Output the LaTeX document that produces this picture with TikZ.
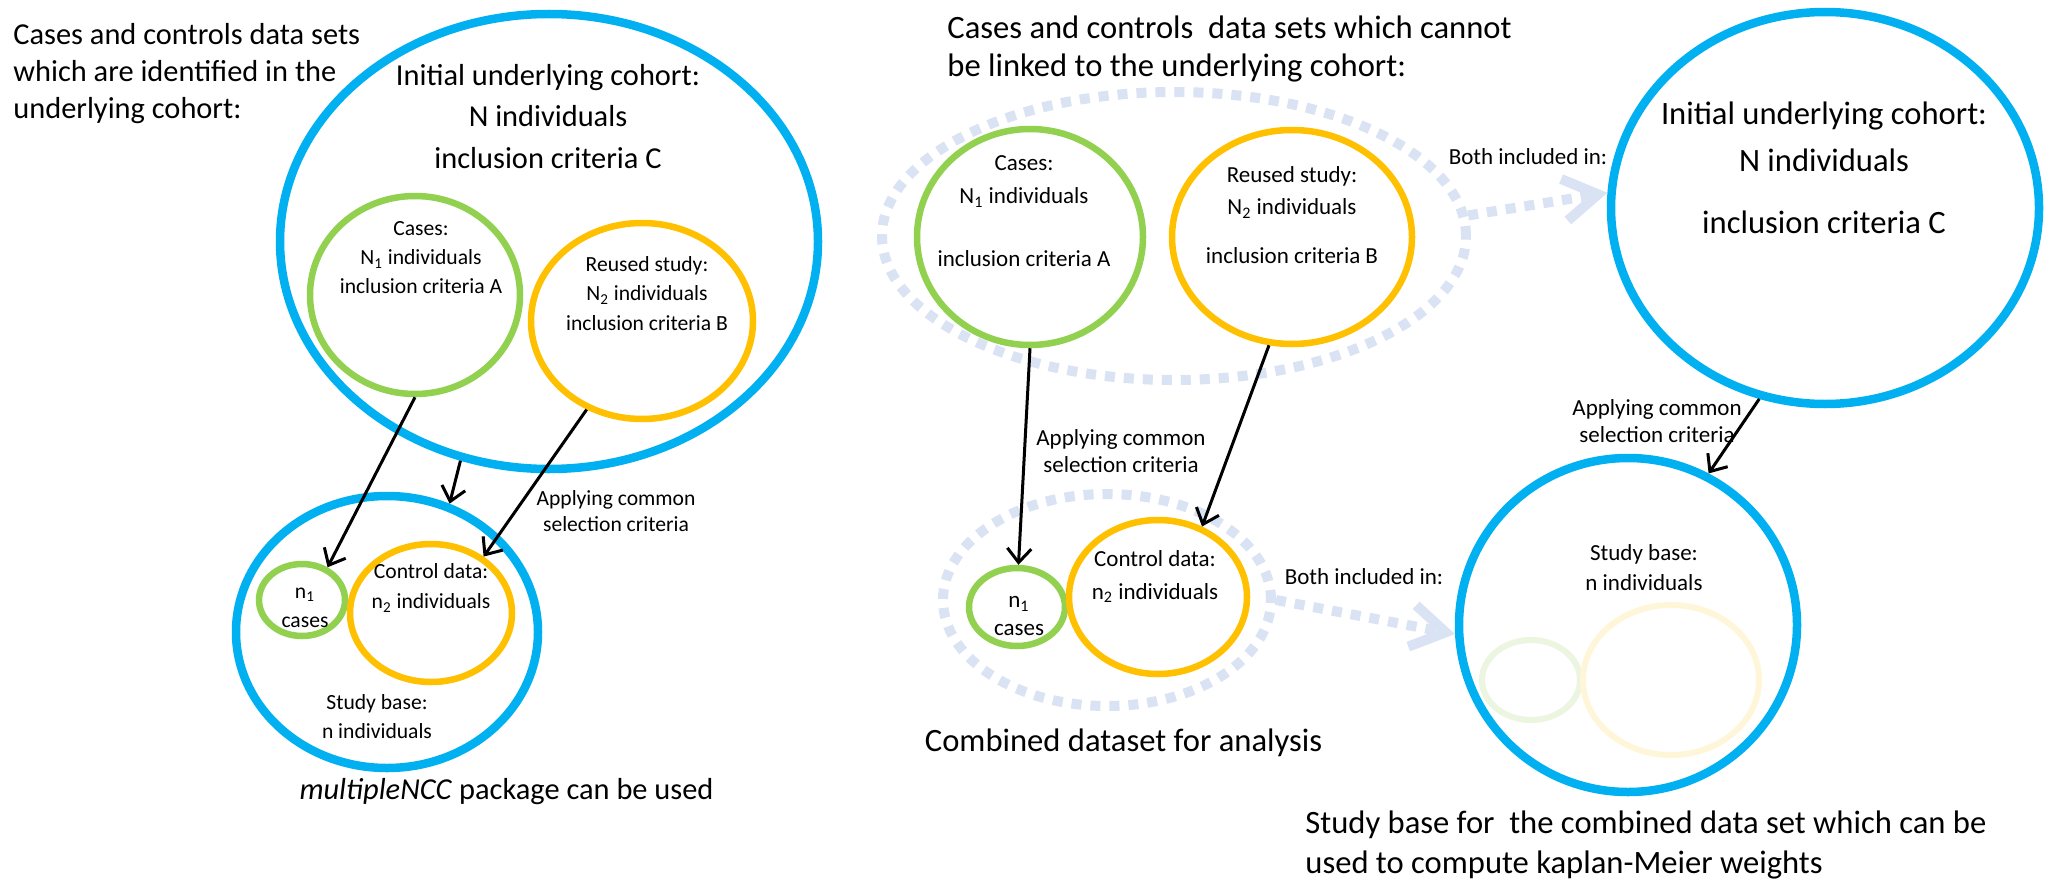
\documentclass[tikz,border=0pt]{standalone}
\usepackage{fontspec}
\setmainfont{Carlito}
\usetikzlibrary{shapes.geometric,arrows.meta}

\definecolor{cblue}{RGB}{0,176,240}
\definecolor{cgreen}{RGB}{146,208,80}
\definecolor{corange}{RGB}{255,192,0}
\definecolor{cdot}{RGB}{218,227,243}
\definecolor{fadegreen}{RGB}{235,245,223}
\definecolor{fadeorange}{RGB}{255,246,217}

\tikzset{
  ring/.style={ellipse, inner sep=0pt},
  bluering/.style={ring, draw=cblue, line width=4.25pt},
  greenring/.style={ring, draw=cgreen, line width=3.25pt},
  orangering/.style={ring, draw=corange, line width=3.25pt},
  dotring/.style={ring, draw=cdot, line width=5pt, dash pattern=on 5pt off 4.5pt},
  arr/.style={line width=1.5pt, -{Straight Barb[length=7pt,width=12pt]}},
  dotarr/.style={draw=cdot, line width=5pt, dash pattern=on 5pt off 4.5pt,
                 -{Straight Barb[length=17pt,width=21pt]}},
  bigL/.style={align=center, inner sep=0pt, font=\fontsize{15.2}{#1}\selectfont},
  smallL/.style={align=center, inner sep=0pt, font=\fontsize{10.8}{#1}\selectfont},
  bigR/.style={align=center, inner sep=0pt, font=\fontsize{16.3}{#1}\selectfont},
  smallR/.style={align=center, inner sep=0pt, font=\fontsize{11.5}{#1}\selectfont},
}

\begin{document}
\begin{tikzpicture}[x=0.5pt,y=-0.5pt]
\path[use as bounding box, fill=white] (0,0) rectangle (2049,883);

% ---------- left: data sets identified in the cohort ----------
\node[bigL=18.3, align=left, anchor=west] (titleL) at (13,73.5)
  {Cases and controls data sets\\which are identified in the\\underlying cohort:};

\node[bluering, minimum width=269pt, minimum height=227.5pt] (cohortL) at (549,241.5) {};
\node[bigL=20.75] (cohortLtxt) at (548,116.5)
  {Initial underlying cohort:\\N individuals\\inclusion criteria C};

\node[greenring, minimum width=105pt, minimum height=99pt] (greenL) at (415,295) {};
\node[smallL=14.5] (greenLtxt) at (421,258)
  {Cases:\\N\textsubscript{1} individuals\\inclusion criteria A};

\node[orangering, minimum width=111pt, minimum height=98pt] (orangeL) at (642,321) {};
\node[smallL=14.75] (orangeLtxt) at (647,293.5)
  {Reused study:\\N\textsubscript{2} individuals\\inclusion criteria B};

\node[bluering, minimum width=151pt, minimum height=136pt] (studyL) at (387,632) {};
\node[greenring, minimum width=43pt, minimum height=36pt] (n1L) at (302,600) {};
\node[smallL=14.5] (n1Ltxt) at (305,607.5) {n\textsubscript{1}\\cases};
\node[orangering, minimum width=81pt, minimum height=69pt] (ctrlL) at (431,613) {};
\node[smallL=15] (ctrlLtxt) at (431,588) {Control data:\\n\textsubscript{2} individuals};
\node[smallL=14.5] (studyLtxt) at (377,716.5) {Study base:\\n individuals};

\node[smallL=13] (applyL) at (616,511) {Applying common\\selection criteria};
\node[bigL=18] (pkgL) at (506.5,792) {\textit{multipleNCC} package can be used};

\draw[arr] (greenL.-90) -- (n1L.52);
\draw[arr] (orangeL.-122) -- (ctrlL.47);
\draw[arr] (cohortL.-112) -- (studyL.64);

% ---------- right: data sets not linked to the cohort ----------
\node[bigR=19, align=left, anchor=west] (titleR) at (947,49)
  {Cases and controls\ \ data sets which cannot\\be linked to the underlying cohort:};

\node[dotring, minimum width=292pt, minimum height=144pt] (dotUp) at (1174,236) {};
\node[greenring, minimum width=113pt, minimum height=108pt] (greenR) at (1030,237) {};
\node[smallR=16.5] (greenRtxt) at (1024,211.5)
  {Cases:\\N\textsubscript{1} individuals\\[15pt]inclusion criteria A};
\node[orangering, minimum width=120pt, minimum height=107pt] (orangeR) at (1292,237) {};
\node[smallR=16] (orangeRtxt) at (1292,215.5)
  {Reused study:\\N\textsubscript{2} individuals\\[8.5pt]inclusion criteria B};

\node[bluering, minimum width=214pt, minimum height=196pt] (cohortR) at (1825,208) {};
\node[bigR=23.5] (cohortRtxt) at (1824,167.5)
  {Initial underlying cohort:\\N individuals\\[7.5pt]inclusion criteria C};
\node[smallR=14] (bothUp) at (1528,157) {Both included in:};

\node[dotring, minimum width=164pt, minimum height=106pt] (dotLow) at (1107,600) {};
\node[greenring, minimum width=48pt, minimum height=39pt] (n1R) at (1017,607) {};
\node[smallR=14] (n1Rtxt) at (1019,616) {n\textsubscript{1}\\cases};
\node[orangering, minimum width=89pt, minimum height=77pt] (ctrlR) at (1158,597) {};
\node[smallR=16.5] (ctrlRtxt) at (1155,576.5) {Control data:\\n\textsubscript{2} individuals};
\node[smallR=14] (bothLow) at (1364,577) {Both included in:};
\node[bigR=19] (combined) at (1123.5,743) {Combined dataset for analysis};

\node[bluering, minimum width=169pt, minimum height=167pt] (studyR) at (1628,625) {};
\node[ring, draw=fadegreen, line width=3pt, minimum width=49pt, minimum height=40pt] (fadeN1) at (1531,680) {};
\node[ring, draw=fadeorange, line width=3pt, minimum width=88pt, minimum height=75pt] (fadeCtrl) at (1671,680) {};
\node[smallR=15] (studyRtxt) at (1644,568) {Study base:\\n individuals};

\node[smallR=13.5] (applyR1) at (1121,451.5) {Applying common\\selection criteria};
\node[smallR=13.5] (applyR2) at (1657,421.5) {Applying common\\selection criteria};

\node[bigR=20, align=left, anchor=west] (studyCap) at (1305,845)
  {Study base for\ \ the combined data set which can be\\used to compute kaplan-Meier weights};

\draw[arr] (greenR.-90) -- (n1R.88);
\draw[arr] (orangeR.-102) -- (ctrlR.58);
\draw[arr] (cohortR.-109) -- (studyR.62);

\draw[dotarr] (dotUp.4) -- (cohortR.176);
\draw[dotarr] (dotLow.0) -- (studyR.-177);
\end{tikzpicture}
\end{document}
